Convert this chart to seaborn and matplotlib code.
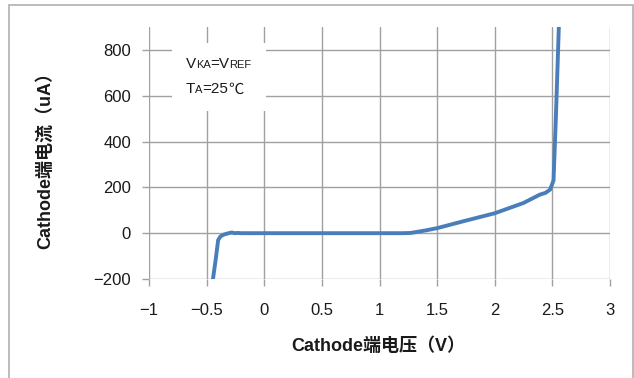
import matplotlib
matplotlib.use("Agg")
import matplotlib.pyplot as plt
import seaborn as sns
import pandas as pd
from matplotlib.offsetbox import TextArea, HPacker, VPacker, AnchoredOffsetbox
from matplotlib.patches import Rectangle

voltage = [-0.445, -0.42, -0.40, -0.38, -0.35, -0.31, -0.28, -0.26, -0.23, -0.2, 0.0, 0.5,
           1.0, 1.2, 1.27, 1.4, 1.5, 1.75, 2.0, 2.25, 2.39, 2.44, 2.48, 2.51, 2.53, 2.556]
current = [-200, -110, -30, -14, -6, 0, 3, 0, 1, 0, 0, 0,
           0, 0, 1, 12, 22, 55, 87, 132, 168, 176, 190, 230, 500, 900]
xticks = [-1, -0.5, 0, 0.5, 1, 1.5, 2, 2.5, 3]
xticklabels = ["\u22121", "\u22120.5", "0", "0.5", "1", "1.5", "2", "2.5", "3"]
yticks = [-200, 0, 200, 400, 600, 800]
yticklabels = ["\u2212200", "0", "200", "400", "600", "800"]

sns.set_theme(style="white")
plt.rcParams['font.family'] = ['Liberation Sans', 'Noto Sans CJK SC', 'DejaVu Sans']

fig = plt.figure(figsize=(6.34, 3.78), dpi=100)
ax = fig.add_axes([149/634, 1 - 279/378, (610 - 149)/634, (279 - 27)/378])

df = pd.DataFrame({"V": voltage, "I": current})
sns.lineplot(data=df, x="V", y="I", ax=ax, color="#4a7ebb", linewidth=2.8,
             sort=False, estimator=None, zorder=3)

ax.set_xlim(-1, 3)
ax.set_ylim(-200, 900)
ax.set_xticks(xticks)
ax.set_xticklabels(xticklabels)
ax.set_yticks(yticks)
ax.set_yticklabels(yticklabels)
for s in ax.spines.values():
    s.set_visible(False)
ax.grid(True, color="#a0a0a0", linewidth=1.0)
ax.tick_params(axis="both", left=True, bottom=True, direction="out", length=5, width=1.0,
               color="#a0a0a0", labelsize=12, labelcolor="#1a1a1a")
ax.tick_params(axis="y", pad=8)
ax.tick_params(axis="x", pad=12)
ax.set_xlabel("Cathode端电压（V）", fontsize=13, fontweight="bold", color="#1a1a1a")
ax.set_ylabel("Cathode端电流（uA）", fontsize=13, fontweight="bold", color="#1a1a1a")
ax.xaxis.set_label_coords((378 - 149)/461, (279 - 337)/252)
ax.yaxis.set_label_coords((54 - 149)/461, (279 - 156)/252)

big = dict(size=11, color="#1a1a1a")
small = dict(size=8, color="#1a1a1a")
cjk = dict(size=11, color="#1a1a1a", family=['Noto Sans CJK SC', 'DejaVu Sans'])
line1 = HPacker(children=[TextArea("V", textprops=big), TextArea("KA", textprops=small),
                          TextArea("=V", textprops=big), TextArea("REF", textprops=small)],
                align="baseline", pad=0, sep=0)
line2 = HPacker(children=[TextArea("T", textprops=big), TextArea("A", textprops=small),
                          TextArea("=25", textprops=big), TextArea("℃", textprops=cjk)],
                align="baseline", pad=0, sep=0)
box = VPacker(children=[line1, line2], align="left", pad=0, sep=7)
anch = AnchoredOffsetbox(loc="upper left", child=box, pad=0.9, frameon=True,
                         bbox_to_anchor=(172, 378 - 43), bbox_transform=None,
                         borderpad=0)
anch.patch.set_facecolor("white")
anch.patch.set_edgecolor("none")
anch.set_zorder(4)
ax.add_artist(anch)

frame = Rectangle((9/634, -0.1), (633 - 9)/634, 1 - 5/378 + 0.1, transform=fig.transFigure,
                  fill=False, edgecolor="#b0b0b0", linewidth=1.2)
fig.patches.append(frame)

fig.savefig("out.png", dpi=100)
